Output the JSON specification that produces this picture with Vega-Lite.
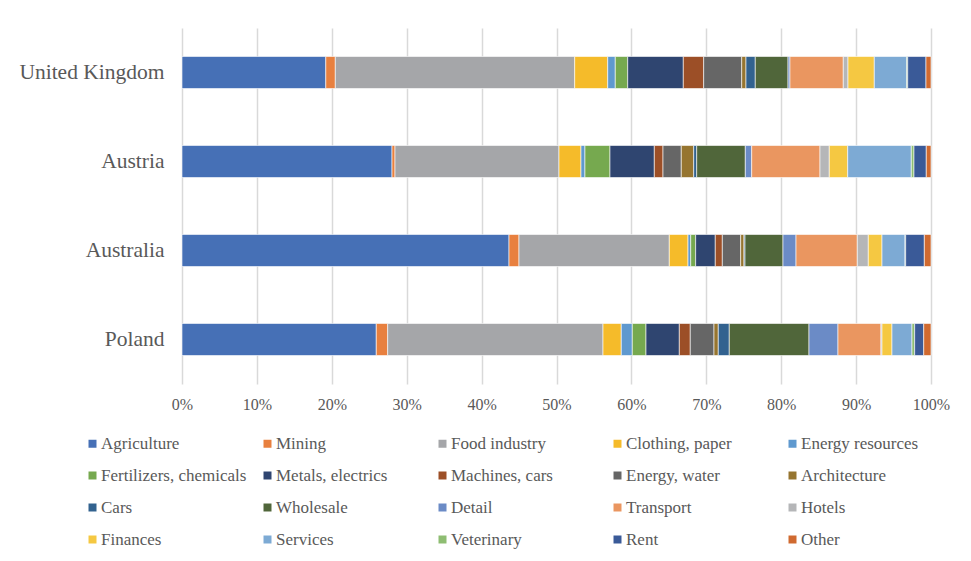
{
  "$schema": "https://vega.github.io/schema/vega-lite/v6.json",
  "width": 749,
  "height": 356,
  "autosize": "none",
  "padding": {"left": 182, "top": 28, "right": 40, "bottom": 177},
  "background": "#ffffff",
  "data": {"values": [
    {"country": "United Kingdom", "k": 1, "sector": "Agriculture", "share": 19.2},
    {"country": "United Kingdom", "k": 2, "sector": "Mining", "share": 1.27},
    {"country": "United Kingdom", "k": 3, "sector": "Food industry", "share": 31.96},
    {"country": "United Kingdom", "k": 4, "sector": "Clothing, paper", "share": 4.41},
    {"country": "United Kingdom", "k": 5, "sector": "Energy resources", "share": 1.01},
    {"country": "United Kingdom", "k": 6, "sector": "Fertilizers, chemicals", "share": 1.66},
    {"country": "United Kingdom", "k": 7, "sector": "Metals, electrics", "share": 7.42},
    {"country": "United Kingdom", "k": 8, "sector": "Machines, cars", "share": 2.72},
    {"country": "United Kingdom", "k": 9, "sector": "Energy, water", "share": 5.08},
    {"country": "United Kingdom", "k": 10, "sector": "Architecture", "share": 0.57},
    {"country": "United Kingdom", "k": 11, "sector": "Cars", "share": 1.24},
    {"country": "United Kingdom", "k": 12, "sector": "Wholesale", "share": 4.37},
    {"country": "United Kingdom", "k": 13, "sector": "Detail", "share": 0.26},
    {"country": "United Kingdom", "k": 14, "sector": "Transport", "share": 7.12},
    {"country": "United Kingdom", "k": 15, "sector": "Hotels", "share": 0.63},
    {"country": "United Kingdom", "k": 16, "sector": "Finances", "share": 3.51},
    {"country": "United Kingdom", "k": 17, "sector": "Services", "share": 4.33},
    {"country": "United Kingdom", "k": 18, "sector": "Veterinary", "share": 0.13},
    {"country": "United Kingdom", "k": 19, "sector": "Rent", "share": 2.44},
    {"country": "United Kingdom", "k": 20, "sector": "Other", "share": 0.67},
    {"country": "Austria", "k": 1, "sector": "Agriculture", "share": 28.04},
    {"country": "Austria", "k": 2, "sector": "Mining", "share": 0.4},
    {"country": "Austria", "k": 3, "sector": "Food industry", "share": 21.89},
    {"country": "Austria", "k": 4, "sector": "Clothing, paper", "share": 2.94},
    {"country": "Austria", "k": 5, "sector": "Energy resources", "share": 0.53},
    {"country": "Austria", "k": 6, "sector": "Fertilizers, chemicals", "share": 3.34},
    {"country": "Austria", "k": 7, "sector": "Metals, electrics", "share": 5.92},
    {"country": "Austria", "k": 8, "sector": "Machines, cars", "share": 1.16},
    {"country": "Austria", "k": 9, "sector": "Energy, water", "share": 2.44},
    {"country": "Austria", "k": 10, "sector": "Architecture", "share": 1.66},
    {"country": "Austria", "k": 11, "sector": "Cars", "share": 0.4},
    {"country": "Austria", "k": 12, "sector": "Wholesale", "share": 6.49},
    {"country": "Austria", "k": 13, "sector": "Detail", "share": 0.85},
    {"country": "Austria", "k": 14, "sector": "Transport", "share": 9.12},
    {"country": "Austria", "k": 15, "sector": "Hotels", "share": 1.24},
    {"country": "Austria", "k": 16, "sector": "Finances", "share": 2.46},
    {"country": "Austria", "k": 17, "sector": "Services", "share": 8.49},
    {"country": "Austria", "k": 18, "sector": "Veterinary", "share": 0.36},
    {"country": "Austria", "k": 19, "sector": "Rent", "share": 1.64},
    {"country": "Austria", "k": 20, "sector": "Other", "share": 0.63},
    {"country": "Australia", "k": 1, "sector": "Agriculture", "share": 43.66},
    {"country": "Australia", "k": 2, "sector": "Mining", "share": 1.33},
    {"country": "Australia", "k": 3, "sector": "Food industry", "share": 20.07},
    {"country": "Australia", "k": 4, "sector": "Clothing, paper", "share": 2.5},
    {"country": "Australia", "k": 5, "sector": "Energy resources", "share": 0.36},
    {"country": "Australia", "k": 6, "sector": "Fertilizers, chemicals", "share": 0.66},
    {"country": "Australia", "k": 7, "sector": "Metals, electrics", "share": 2.62},
    {"country": "Australia", "k": 8, "sector": "Machines, cars", "share": 0.94},
    {"country": "Australia", "k": 9, "sector": "Energy, water", "share": 2.45},
    {"country": "Australia", "k": 10, "sector": "Architecture", "share": 0.44},
    {"country": "Australia", "k": 11, "sector": "Cars", "share": 0.14},
    {"country": "Australia", "k": 12, "sector": "Wholesale", "share": 5.07},
    {"country": "Australia", "k": 13, "sector": "Detail", "share": 1.74},
    {"country": "Australia", "k": 14, "sector": "Transport", "share": 8.18},
    {"country": "Australia", "k": 15, "sector": "Hotels", "share": 1.47},
    {"country": "Australia", "k": 16, "sector": "Finances", "share": 1.83},
    {"country": "Australia", "k": 17, "sector": "Services", "share": 3.07},
    {"country": "Australia", "k": 18, "sector": "Veterinary", "share": 0.09},
    {"country": "Australia", "k": 19, "sector": "Rent", "share": 2.49},
    {"country": "Australia", "k": 20, "sector": "Other", "share": 0.89},
    {"country": "Poland", "k": 1, "sector": "Agriculture", "share": 25.94},
    {"country": "Poland", "k": 2, "sector": "Mining", "share": 1.52},
    {"country": "Poland", "k": 3, "sector": "Food industry", "share": 28.75},
    {"country": "Poland", "k": 4, "sector": "Clothing, paper", "share": 2.44},
    {"country": "Poland", "k": 5, "sector": "Energy resources", "share": 1.47},
    {"country": "Poland", "k": 6, "sector": "Fertilizers, chemicals", "share": 1.83},
    {"country": "Poland", "k": 7, "sector": "Metals, electrics", "share": 4.45},
    {"country": "Poland", "k": 8, "sector": "Machines, cars", "share": 1.46},
    {"country": "Poland", "k": 9, "sector": "Energy, water", "share": 3.17},
    {"country": "Poland", "k": 10, "sector": "Architecture", "share": 0.57},
    {"country": "Poland", "k": 11, "sector": "Cars", "share": 1.47},
    {"country": "Poland", "k": 12, "sector": "Wholesale", "share": 10.64},
    {"country": "Poland", "k": 13, "sector": "Detail", "share": 3.87},
    {"country": "Poland", "k": 14, "sector": "Transport", "share": 5.74},
    {"country": "Poland", "k": 15, "sector": "Hotels", "share": 0.14},
    {"country": "Poland", "k": 16, "sector": "Finances", "share": 1.33},
    {"country": "Poland", "k": 17, "sector": "Services", "share": 2.67},
    {"country": "Poland", "k": 18, "sector": "Veterinary", "share": 0.36},
    {"country": "Poland", "k": 19, "sector": "Rent", "share": 1.21},
    {"country": "Poland", "k": 20, "sector": "Other", "share": 0.97}
  ]},
  "mark": {"type": "bar", "stroke": "#ffffff", "strokeWidth": 0.6},
  "encoding": {
    "y": {
      "field": "country", "type": "nominal",
      "sort": ["United Kingdom", "Austria", "Australia", "Poland"],
      "scale": {"paddingInner": 0.64, "paddingOuter": 0.32},
      "axis": {"title": null, "ticks": false, "domain": false, "labelFontSize": 21.5, "labelPadding": 18, "labelColor": "#595959", "labelFont": "Liberation Serif"}
    },
    "x": {
      "field": "share", "type": "quantitative",
      "stack": "normalize",
      "scale": {"domain": [0, 1]},
      "axis": {"title": null, "format": ".0%", "values": [0, 0.1, 0.2, 0.3, 0.4, 0.5, 0.6, 0.7, 0.8, 0.9, 1], "ticks": false, "domain": false, "grid": true, "gridColor": "#D9D9D9", "gridWidth": 1.5, "labelFontSize": 16, "labelPadding": 12, "labelColor": "#595959", "labelFont": "Liberation Serif", "labelFlush": false}
    },
    "order": {"field": "k", "type": "quantitative", "sort": "ascending"},
    "color": {
      "field": "sector", "type": "nominal",
      "sort": ["Agriculture", "Mining", "Food industry", "Clothing, paper", "Energy resources", "Fertilizers, chemicals", "Metals, electrics", "Machines, cars", "Energy, water", "Architecture", "Cars", "Wholesale", "Detail", "Transport", "Hotels", "Finances", "Services", "Veterinary", "Rent", "Other"],
      "scale": {
        "domain": ["Agriculture", "Mining", "Food industry", "Clothing, paper", "Energy resources", "Fertilizers, chemicals", "Metals, electrics", "Machines, cars", "Energy, water", "Architecture", "Cars", "Wholesale", "Detail", "Transport", "Hotels", "Finances", "Services", "Veterinary", "Rent", "Other"],
        "range": ["#4670B6", "#E8803F", "#A5A6A9", "#F5BB2A", "#5F99CF", "#76A94F", "#2F4570", "#9C4F27", "#666666", "#967530", "#32628F", "#50663A", "#6B8BC6", "#EA9660", "#B5B6B8", "#F5C842", "#7DAAD4", "#8EBD72", "#3A5A98", "#D06A30"]
      },
      "legend": {
        "title": null, "orient": "none", "legendX": -98, "legendY": 407,
        "direction": "horizontal", "columns": 5, "gridAlign": "all",
        "columnPadding": 12, "rowPadding": 14, "padding": 0,
        "symbolType": "square", "symbolSize": 64, "symbolStrokeWidth": 0,
        "labelFontSize": 17, "labelFont": "Liberation Serif", "labelColor": "#595959",
        "labelOffset": 0, "labelLimit": 220
      }
    }
  },
  "config": {"view": {"stroke": null}}
}
